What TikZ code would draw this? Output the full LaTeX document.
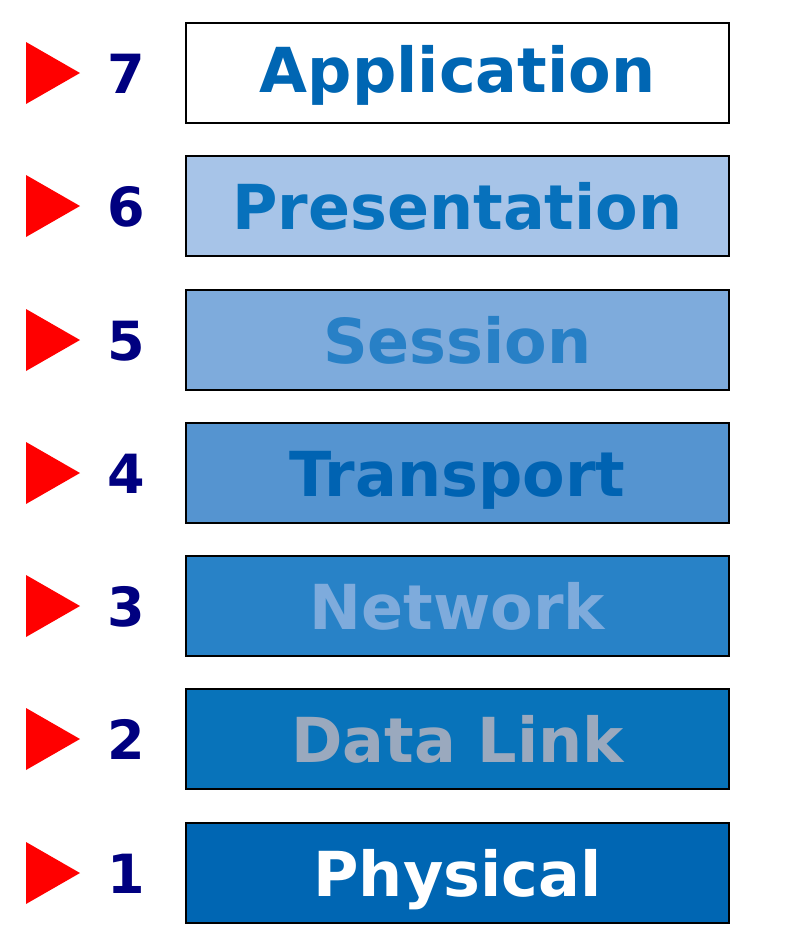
\documentclass[tikz,border=0pt]{standalone}
\usepackage{fontspec}
\setmainfont{DejaVu Sans}
\usepackage{tikz}

\definecolor{appblue}{HTML}{0066B3}
\definecolor{presfill}{HTML}{A7C4E8}
\definecolor{prestext}{HTML}{0771BC}
\definecolor{sessfill}{HTML}{7EABDC}
\definecolor{sesstext}{HTML}{2880C6}
\definecolor{tranfill}{HTML}{5594D0}
\definecolor{trantext}{HTML}{0063B2}
\definecolor{netfill}{HTML}{2882C7}
\definecolor{nettext}{HTML}{7EABDC}
\definecolor{linkfill}{HTML}{0873BA}
\definecolor{linktext}{HTML}{9AA9BE}
\definecolor{physfill}{HTML}{0066B3}
\definecolor{numnavy}{HTML}{000080}

\tikzset{
  layer/.style={draw, line width=2pt, rectangle, minimum width=543pt, minimum height=100pt,
    inner sep=0pt, text height=47pt, text depth=0pt,
    font=\fontsize{62}{70}\selectfont\bfseries},
  num/.style={text=numnavy, inner sep=0pt, text height=41pt, text depth=0pt,
    font=\fontsize{54}{60}\selectfont\bfseries},
  marker/.style={fill=red}
}

\begin{document}
\begin{tikzpicture}[x=1pt, y=-1pt]
\def \bx {457.5}
\def \nx {126}
\useasboundingbox (0,0) rectangle (800,946);

% triangles
\fill[marker] (26,42) -- (80,73) -- (26,104) -- cycle;
\fill[marker] (26,175) -- (80,206) -- (26,237) -- cycle;
\fill[marker] (26,309) -- (80,340) -- (26,371) -- cycle;
\fill[marker] (26,442) -- (80,473) -- (26,504) -- cycle;
\fill[marker] (26,575) -- (80,606) -- (26,637) -- cycle;
\fill[marker] (26,708) -- (80,739) -- (26,770) -- cycle;
\fill[marker] (26,842) -- (80,873) -- (26,904) -- cycle;

% layer numbers
\node[num] at (\nx,73) (n7) {7};
\node[num] at (\nx,206) (n6) {6};
\node[num] at (\nx,340) (n5) {5};
\node[num] at (\nx,473) (n4) {4};
\node[num] at (\nx,606) (n3) {3};
\node[num] at (\nx,739) (n2) {2};
\node[num] at (\nx,873) (n1) {1};

% layers
\node[layer, fill=white, text=appblue, text height=38pt] at (\bx,73) (app) {Application};
\node[layer, fill=presfill, text=prestext] at (\bx,206) (pres) {Presentation};
\node[layer, fill=sessfill, text=sesstext] at (\bx,340) (sess) {Session};
\node[layer, fill=tranfill, text=trantext] at (\bx,473) (tran) {Transport};
\node[layer, fill=netfill, text=nettext] at (\bx,606) (net) {Network};
\node[layer, fill=linkfill, text=linktext] at (\bx,739) (link) {Data Link};
\node[layer, fill=physfill, text=white] at (\bx,873) (phys) {Physical};

\end{tikzpicture}
\end{document}
